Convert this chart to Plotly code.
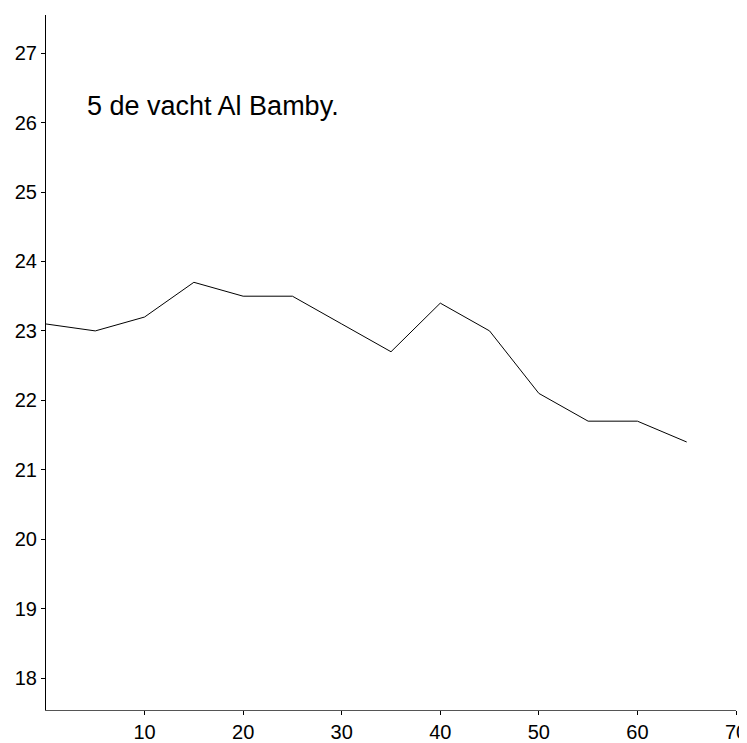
import plotly.graph_objects as go

x_vals = [0, 5, 10, 15, 20, 25, 30, 35, 40, 45, 50, 55, 60, 65]
y_vals = [23.1, 23.0, 23.2, 23.7, 23.5, 23.5, 23.1, 22.7, 23.4, 23.0, 22.1, 21.7, 21.7, 21.4]
x_ticks = [10, 20, 30, 40, 50, 60, 70]
y_ticks = [18, 19, 20, 21, 22, 23, 24, 25, 26, 27]
label_text = "5 de vacht Al Bamby."

fig = go.Figure()
fig.add_trace(go.Scatter(x=x_vals, y=y_vals, mode="lines",
                         line=dict(color="black", width=1), showlegend=False))

fig.add_annotation(x=4.0, y=26.24, xref="x", yref="y", text=label_text,
                   showarrow=False, xanchor="left", yanchor="middle",
                   font=dict(family="Liberation Sans, Arial", size=27, color="black"))

fig.update_layout(
    width=739, height=735,
    margin=dict(l=38, r=11, t=7, b=33, autoexpand=False),
    paper_bgcolor="white", plot_bgcolor="white",
    font=dict(family="Liberation Sans, Arial", size=20, color="black"),
)
fig.update_xaxes(range=[0, 70], tickvals=x_ticks, showgrid=False, zeroline=False,
                 showline=True, linecolor="#555", linewidth=1, automargin=False,
                 ticklabeloverflow="allow",
                 ticks="outside", ticklen=4, tickcolor="black")
fig.update_yaxes(range=[17.54, 27.55], tickvals=y_ticks, showgrid=False, zeroline=False,
                 showline=True, linecolor="black", linewidth=1, automargin=False,
                 ticklabeloverflow="allow",
                 ticks="outside", ticklen=4, tickcolor="black")

fig.write_html("out.html")
